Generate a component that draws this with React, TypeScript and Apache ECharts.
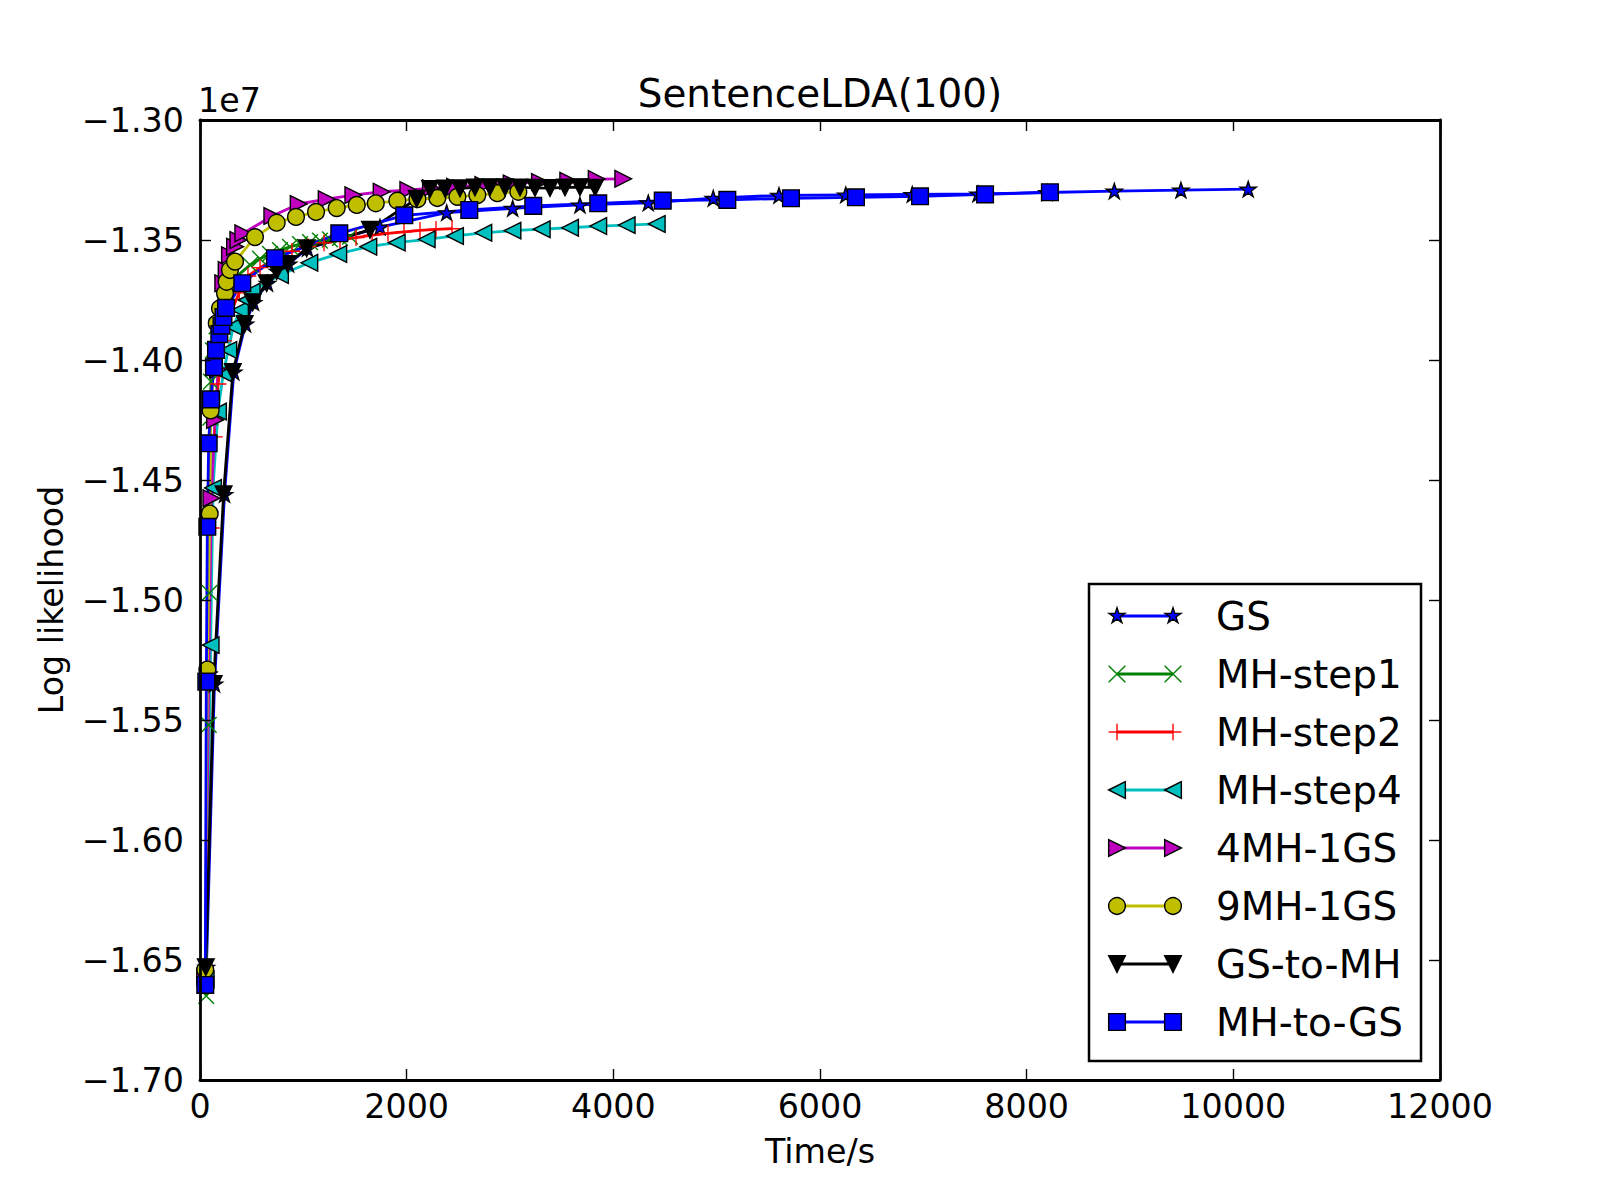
import React, { useEffect, useRef } from 'react';
import * as echarts from 'echarts';

// ---------- axis ranges / tick labels ----------
const X_MIN = 0;
const X_MAX = 12000;
const X_STEP = 2000;
const Y_MIN = -1.7;
const Y_MAX = -1.3;
const Y_STEP = 0.05;
const Y_OFFSET_TEXT = '1e7';

const TITLE = 'SentenceLDA(100)';
const X_NAME = 'Time/s';
const Y_NAME = 'Log likelihood';

// ---------- data (time in s, log likelihood in units of 1e7) ----------
const GS_T = [62, 140, 237, 327, 440, 518, 653, 750, 857, 1040, 1742, 2387, 3026, 3677, 4338, 4967, 5603, 6249, 6893, 7529, 8197, 8848, 9493, 10144];
const GS_LL = [-1.653, -1.535, -1.456, -1.405, -1.385, -1.376, -1.368, -1.363, -1.36, -1.3535, -1.3446, -1.3386, -1.3368, -1.3354, -1.3345, -1.3326, -1.3314, -1.3312, -1.331, -1.3308, -1.3302, -1.3296, -1.3292, -1.3288];

const MH1_T = [60, 85, 92, 100, 106, 125, 160, 225, 280, 360, 484, 581, 677, 774, 871, 968, 1065, 1161, 1258, 1355, 1452];
const MH1_LL = [-1.665, -1.552, -1.497, -1.424, -1.409, -1.396, -1.386, -1.373, -1.369, -1.365, -1.3604, -1.3578, -1.3558, -1.3542, -1.3529, -1.3517, -1.3509, -1.3503, -1.3497, -1.3491, -1.3486];

const MH2_T = [55, 85, 110, 140, 175, 230, 300, 380, 464, 581, 735, 890, 1045, 1200, 1355, 1510, 1665, 1819, 1974, 2129, 2284, 2439];
const MH2_LL = [-1.66, -1.53, -1.47, -1.432, -1.41, -1.392, -1.38, -1.372, -1.365, -1.3615, -1.3575, -1.3547, -1.3527, -1.3512, -1.35, -1.349, -1.348, -1.3472, -1.3466, -1.346, -1.3456, -1.3453];

const MH4_T = [55, 103, 126, 174, 225, 274, 322, 387, 452, 500, 774, 1058, 1338, 1629, 1904, 2194, 2468, 2742, 3024, 3307, 3581, 3854, 4129, 4420];
const MH4_LL = [-1.658, -1.5188, -1.4533, -1.4215, -1.4055, -1.3958, -1.3861, -1.3792, -1.375, -1.3715, -1.3646, -1.3595, -1.3558, -1.3528, -1.3511, -1.3497, -1.3483, -1.347, -1.3461, -1.3455, -1.3449, -1.3442, -1.3438, -1.3433];

const M4G1_T = [50, 85, 110, 145, 175, 195, 225, 258, 290, 339, 371, 419, 700, 955, 1226, 1484, 1758, 2016, 2235, 2468, 2742, 3016, 3290, 3564, 3839, 4096];
const M4G1_LL = [-1.657, -1.53, -1.4576, -1.425, -1.404, -1.3875, -1.368, -1.3625, -1.3563, -1.3528, -1.35, -1.3472, -1.34, -1.335, -1.333, -1.3313, -1.3299, -1.3292, -1.3284, -1.3278, -1.3271, -1.3264, -1.3258, -1.3253, -1.3246, -1.3245];

const M9G1_T = [51, 71, 94, 103, 162, 194, 242, 258, 290, 339, 532, 742, 929, 1123, 1323, 1517, 1701, 1910, 2104, 2297, 2491, 2684, 2878, 3081];
const M9G1_LL = [-1.654, -1.529, -1.464, -1.421, -1.3847, -1.3785, -1.3722, -1.3674, -1.3625, -1.359, -1.3488, -1.3428, -1.3404, -1.3383, -1.3367, -1.3354, -1.3347, -1.3336, -1.333, -1.3325, -1.332, -1.3313, -1.3305, -1.3299];

const GS2MH_T = [56, 132, 228, 318, 432, 510, 645, 742, 849, 1032, 1645, 2097, 2226, 2371, 2516, 2661, 2806, 2952, 3097, 3242, 3387, 3532, 3677, 3824];
const GS2MH_LL = [-1.653, -1.535, -1.456, -1.405, -1.385, -1.376, -1.368, -1.363, -1.36, -1.3535, -1.3458, -1.3328, -1.3288, -1.3286, -1.3285, -1.3281, -1.328, -1.328, -1.3281, -1.3283, -1.3284, -1.3281, -1.328, -1.3282];

const MH2GS_T = [51, 61, 71, 84, 106, 135, 155, 187, 208, 227, 252, 409, 726, 1348, 1977, 2606, 3225, 3854, 4478, 5103, 5719, 6348, 6968, 7597, 8225];
const MH2GS_LL = [-1.6604, -1.534, -1.4695, -1.4347, -1.4164, -1.403, -1.3958, -1.3892, -1.3857, -1.3821, -1.3783, -1.368, -1.3576, -1.3472, -1.3397, -1.3375, -1.3358, -1.3347, -1.3336, -1.3333, -1.3326, -1.3322, -1.3318, -1.331, -1.3301];

const SERIES_NAMES = ['GS', 'MH-step1', 'MH-step2', 'MH-step4', '4MH-1GS', '9MH-1GS', 'GS-to-MH', 'MH-to-GS'];
const SERIES_T = [GS_T, MH1_T, MH2_T, MH4_T, M4G1_T, M9G1_T, GS2MH_T, MH2GS_T];
const SERIES_LL = [GS_LL, MH1_LL, MH2_LL, MH4_LL, M4G1_LL, M9G1_LL, GS2MH_LL, MH2GS_LL];

// ---------- styles ----------
type Marker = 'star' | 'x' | 'plus' | 'left' | 'right' | 'circle' | 'down' | 'square';
const STYLES: { color: string; marker: Marker }[] = [
  { color: '#0000ff', marker: 'star' },
  { color: '#008000', marker: 'x' },
  { color: '#ff0000', marker: 'plus' },
  { color: '#00bfbf', marker: 'left' },
  { color: '#bf00bf', marker: 'right' },
  { color: '#bfbf00', marker: 'circle' },
  { color: '#000000', marker: 'down' },
  { color: '#0000ff', marker: 'square' },
];

const FONT = '"DejaVu Sans", "Liberation Sans", sans-serif';
const MS = 16.7; // marker size px
const LW = 2.8; // line width px
const EW = 1.4; // marker edge width px

const GRID = { left: 200, top: 120, width: 1240, height: 960 };

const STAR_PATH = 'path://M50,0L61.23,34.55L97.55,34.55L68.17,55.9L79.39,90.45L50,69.1L20.61,90.45L31.83,55.9L2.45,34.55L38.77,34.55Z';
const X_PATH = 'path://M0,6L6,0L100,94L94,100ZM94,0L100,6L6,100L0,94Z';
const PLUS_PATH = 'path://M46,0H54V46H100V54H54V100H46V54H0V46H46Z';
const LEFT_PATH = 'path://M0,50L100,0L100,100Z';
const RIGHT_PATH = 'path://M100,50L0,0L0,100Z';
const DOWN_PATH = 'path://M0,0L100,0L50,100Z';

function symbolFor(m: Marker) {
  switch (m) {
    case 'star': return { symbol: STAR_PATH, size: 16, keep: true, edge: true };
    case 'x': return { symbol: X_PATH, size: MS, keep: false, edge: false };
    case 'plus': return { symbol: PLUS_PATH, size: MS, keep: false, edge: false };
    case 'left': return { symbol: LEFT_PATH, size: MS, keep: false, edge: true };
    case 'right': return { symbol: RIGHT_PATH, size: MS, keep: false, edge: true };
    case 'circle': return { symbol: 'circle', size: MS, keep: false, edge: true };
    case 'down': return { symbol: DOWN_PATH, size: MS, keep: false, edge: true };
    default: return { symbol: 'rect', size: MS, keep: false, edge: true };
  }
}

function starPoints(cx: number, cy: number, R: number) {
  const r = R * 0.381966;
  const pts: number[][] = [];
  for (let k = 0; k < 10; k++) {
    const a = ((-90 + 36 * k) * Math.PI) / 180;
    const rad = k % 2 === 0 ? R : r;
    pts.push([cx + rad * Math.cos(a), cy + rad * Math.sin(a)]);
  }
  return pts;
}

function legendMarker(m: Marker, cx: number, cy: number, color: string): any[] {
  const h = MS / 2;
  const edge = { stroke: '#000', lineWidth: EW };
  const ln = (x1: number, y1: number, x2: number, y2: number) => ({
    type: 'line', z: 101, shape: { x1, y1, x2, y2 }, style: { stroke: color, lineWidth: EW },
  });
  switch (m) {
    case 'star':
      return [{ type: 'polygon', z: 101, shape: { points: starPoints(cx, cy, h) }, style: { fill: color, ...edge } }];
    case 'x':
      return [ln(cx - h, cy - h, cx + h, cy + h), ln(cx - h, cy + h, cx + h, cy - h)];
    case 'plus':
      return [ln(cx - h, cy, cx + h, cy), ln(cx, cy - h, cx, cy + h)];
    case 'left':
      return [{ type: 'polygon', z: 101, shape: { points: [[cx - h, cy], [cx + h, cy - h], [cx + h, cy + h]] }, style: { fill: color, ...edge } }];
    case 'right':
      return [{ type: 'polygon', z: 101, shape: { points: [[cx + h, cy], [cx - h, cy - h], [cx - h, cy + h]] }, style: { fill: color, ...edge } }];
    case 'circle':
      return [{ type: 'circle', z: 101, shape: { cx, cy, r: h }, style: { fill: color, ...edge } }];
    case 'down':
      return [{ type: 'polygon', z: 101, shape: { points: [[cx - h, cy - h], [cx + h, cy - h], [cx, cy + h]] }, style: { fill: color, ...edge } }];
    default:
      return [{ type: 'rect', z: 101, shape: { x: cx - h, y: cy - h, width: MS, height: MS }, style: { fill: color, ...edge } }];
  }
}

function buildLegend(): any[] {
  const box = { x: 1089, y: 584, width: 332, height: 477 };
  const firstRow = 616;
  const rowGap = 58;
  const mx1 = 1117;
  const mx2 = 1173;
  const tx = 1216;
  const els: any[] = [
    { type: 'rect', z: 100, shape: box, style: { fill: '#fff', stroke: '#000', lineWidth: 2.5 } },
  ];
  SERIES_NAMES.forEach((name, i) => {
    const y = firstRow + i * rowGap;
    const st = STYLES[i];
    els.push({ type: 'line', z: 100, shape: { x1: mx1, y1: y, x2: mx2, y2: y }, style: { stroke: st.color, lineWidth: LW } });
    els.push(...legendMarker(st.marker, mx1, y, st.color));
    els.push(...legendMarker(st.marker, mx2, y, st.color));
    els.push({
      type: 'text', z: 101, x: tx, y,
      style: {
        text: name, font: `38.9px ${FONT}`, fill: '#000',
        textAlign: 'left', align: 'left', textVerticalAlign: 'middle', verticalAlign: 'middle',
      },
    });
  });
  return els;
}

const fmtY = (v: number) => (v < 0 ? '\u2212' : '') + Math.abs(v).toFixed(2);

function buildOption(): any {
  const axisLine = { show: true, onZero: false, lineStyle: { color: '#000', width: LW } };
  const axisTick = { show: true, inside: true, length: 11, lineStyle: { color: '#000', width: EW } };
  const labelStyle = { color: '#000', fontSize: 33.3, fontFamily: FONT };
  const series = SERIES_NAMES.map((name, i) => {
    const st = STYLES[i];
    const sym = symbolFor(st.marker);
    return {
      type: 'line',
      name,
      xAxisIndex: 0,
      yAxisIndex: 0,
      data: SERIES_T[i].map((t, k) => [t, SERIES_LL[i][k]]),
      symbol: sym.symbol,
      symbolSize: sym.size,
      symbolKeepAspect: sym.keep,
      showSymbol: true,
      showAllSymbol: true,
      clip: true,
      silent: true,
      lineStyle: { color: st.color, width: LW },
      itemStyle: { color: st.color, borderColor: '#000', borderWidth: sym.edge ? EW : 0, opacity: 1 },
      emphasis: { disabled: true },
    };
  });
  return {
    animation: false,
    backgroundColor: '#ffffff',
    title: {
      text: TITLE,
      left: 820,
      top: 74,
      padding: 0,
      textAlign: 'center',
      textStyle: { color: '#000', fontSize: 38.9, fontWeight: 'normal', fontFamily: FONT },
    },
    grid: { ...GRID, containLabel: false, outerBoundsMode: 'none' },
    xAxis: [
      {
        type: 'value', position: 'bottom', min: X_MIN, max: X_MAX, interval: X_STEP, z: 10,
        axisLine, axisTick, splitLine: { show: false },
        axisLabel: { ...labelStyle, margin: 10, formatter: (v: number) => String(v) },
        name: X_NAME, nameLocation: 'middle', nameGap: 71,
        nameTextStyle: { ...labelStyle, verticalAlign: 'middle' },
      },
      {
        type: 'value', position: 'top', min: X_MIN, max: X_MAX, interval: X_STEP, z: 10,
        axisLine, axisTick, splitLine: { show: false }, axisLabel: { show: false },
      },
    ],
    yAxis: [
      {
        type: 'value', position: 'left', min: Y_MIN, max: Y_MAX, interval: Y_STEP, z: 10,
        axisLine, axisTick, splitLine: { show: false },
        axisLabel: { ...labelStyle, margin: 16, padding: [0, 0, 5, 0], formatter: fmtY },
        name: Y_NAME, nameLocation: 'middle', nameGap: 149,
        nameTextStyle: { ...labelStyle, verticalAlign: 'middle' },
      },
      {
        type: 'value', position: 'right', min: Y_MIN, max: Y_MAX, interval: Y_STEP, z: 10,
        axisLine, axisTick, splitLine: { show: false }, axisLabel: { show: false },
      },
    ],
    graphic: [
      {
        type: 'text', x: 198, y: 100, z: 50,
        style: { text: Y_OFFSET_TEXT, font: `33.3px ${FONT}`, fill: '#000', textVerticalAlign: 'middle', verticalAlign: 'middle' },
      },
      ...buildLegend(),
    ],
    series,
  };
}

export default function App() {
  const ref = useRef<HTMLDivElement>(null);
  useEffect(() => {
    if (!ref.current) return;
    const chart = echarts.init(ref.current, null, { renderer: 'svg' });
    chart.setOption(buildOption());
    return () => {
      chart.dispose();
    };
  }, []);
  return (
    <div
      ref={ref}
      style={{ position: 'absolute', left: 0, top: 0, width: 1600, height: 1200, background: '#fff' }}
    />
  );
}
